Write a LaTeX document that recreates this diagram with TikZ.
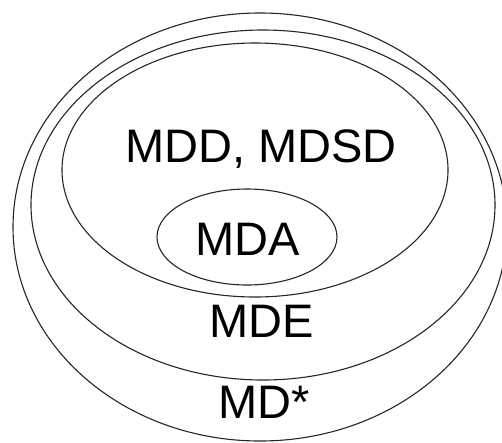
\documentclass[tikz,border=0pt]{standalone}
\usepackage{fontspec}
\setmainfont{Liberation Sans}
\usetikzlibrary{shapes.geometric}
\begin{document}
\begin{tikzpicture}[x=1pt,y=-1pt,
  ring/.style={draw=black!85,line width=1.1pt},
  lbl/.style={font=\fontsize{47}{47}\selectfont,inner sep=0pt,anchor=base}]
\useasboundingbox[fill=white] (0,0) rectangle (502,442);
\draw[ring] (260,227) ellipse [x radius=247,y radius=214];
\draw[ring] (263,205) ellipse [x radius=232,y radius=175];
\draw[ring] (255,170) ellipse [x radius=193,y radius=127];
\draw[ring] (247,237) ellipse [x radius=90,y radius=48];
\node[lbl] (mdd) at (261,162) {MDD, MDSD};
\node[lbl] (mda) at (248,255) {MDA};
\node[lbl] (mde) at (262,337) {MDE};
\node[lbl] (mdstar) at (264,418) {MD*};
\end{tikzpicture}
\end{document}
